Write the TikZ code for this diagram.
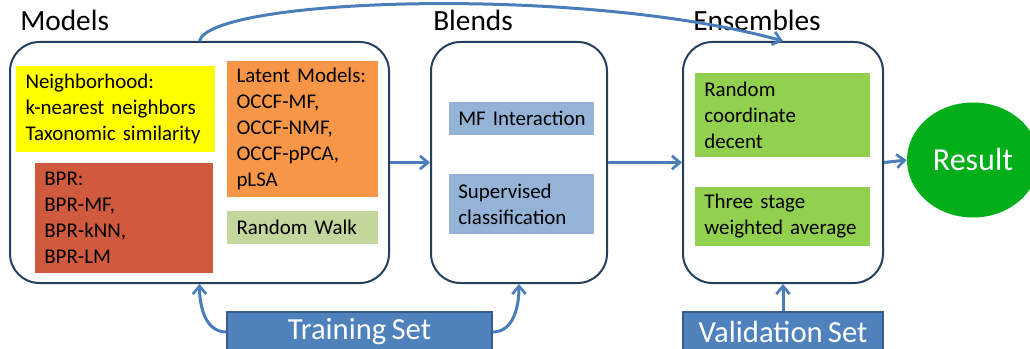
\documentclass[tikz,border=0pt]{standalone}
\usepackage{fontspec}
\setmainfont{Carlito}[WordSpace=0.75]
\usepackage{xcolor}
\usetikzlibrary{positioning, arrows.meta, calc, shapes.geometric}
\definecolor{framenavy}{HTML}{243F60}
\definecolor{flowblue}{HTML}{4A7EBB}
\definecolor{nbyellow}{HTML}{FFFF00}
\definecolor{latorange}{HTML}{F79646}
\definecolor{bprred}{HTML}{CF5A3E}
\definecolor{walkgreen}{HTML}{C3D69B}
\definecolor{blendblue}{HTML}{95B3D7}
\definecolor{ensgreen}{HTML}{92D050}
\definecolor{resgreen}{HTML}{02AE1A}
\definecolor{setblue}{HTML}{4F81BD}
\definecolor{setborder}{HTML}{385D8A}
\hyphenpenalty=10000

\begin{document}
\begin{tikzpicture}[x=0.75pt, y=-0.75pt,
    stagebox/.style={draw=framenavy, line width=1.5pt, rounded corners=22pt,
      minimum height=180.75pt, inner sep=0pt},
    itembox/.style={inner xsep=7pt, inner ysep=2pt, align=left,
      font=\fontsize{15.7}{19.5}\selectfont},
    stagelabel/.style={anchor=base west, inner sep=0pt,
      font=\fontsize{22}{26}\selectfont},
    setbox/.style={draw=setborder, line width=1pt, fill=setblue, text=white,
      minimum height=30pt, inner sep=0pt, font=\fontsize{23}{27}\selectfont},
    flow/.style={draw=flowblue, line width=2.25pt,
      -{Straight Barb[length=6pt, width=10pt, line width=2pt]}}]
  \useasboundingbox (0,0) rectangle (1030,349);
  \clip (0,0) rectangle (1030,349);

  % stages
  \node[stagebox, minimum width=284.25pt] (models) at (199.5,162.5) {};
  \node[stagebox, minimum width=132pt] (blends) at (519,162.5) {};
  \node[stagebox, minimum width=150pt] (ensembles) at (783,162.5) {};

  \node[stagelabel] (modelslbl) at (20,31) {Models};
  \node[stagelabel] (blendslbl) at (433,31) {Blends};
  \node[stagelabel] (enslbl) at (693,31) {Ensembles};

  % models
  \node[itembox, fill=nbyellow, text width=135pt, minimum height=64.5pt] (nbhood) at (115.5,109) {%
    Neighborhood:\\k-nearest neighbors\\Taxonomic similarity};
  \node[itembox, fill=latorange, text width=99pt, minimum height=102pt] (latent) at (302.5,129) {%
    Latent Models:\\OCCF-MF,\\OCCF-NMF,\\OCCF-pPCA,\\pLSA};
  \node[itembox, fill=bprred, text width=119.5pt, minimum height=82.5pt] (bpr) at (124,218) {%
    BPR:\\BPR-MF,\\BPR-kNN,\\BPR-LM};
  \node[itembox, fill=walkgreen, text width=99pt, minimum height=24.75pt] (walk) at (302.5,227.5) {%
    Random Walk};

  % blends
  \node[itembox, inner xsep=4pt, fill=blendblue, text width=100.75pt, minimum height=24.75pt] (mfint) at (521.5,118.5) {%
    \hspace*{3pt}MF Interaction};
  \node[itembox, inner xsep=4pt, fill=blendblue, text width=100.75pt, minimum height=45pt] (superv) at (521.5,204) {%
    \hspace*{3pt}Supervised\\\hspace*{3pt}classification};

  % ensembles
  \node[itembox, fill=ensgreen, text width=117.25pt, minimum height=63pt] (rcd) at (782.5,115) {%
    Random\\coordinate\\decent};
  \node[itembox, fill=ensgreen, text width=117.25pt, minimum height=44.25pt] (threestage) at (782.5,216.5) {%
    Three stage\\weighted average};

  \node[ellipse, fill=resgreen, text=white, minimum width=99pt, minimum height=86.25pt,
        inner sep=0pt, font=\fontsize{24}{28}\selectfont] (result) at (973,160) {Result};

  \node[setbox, minimum width=198.75pt] (train) at (359.5,332) {Training Set};
  \node[setbox, minimum width=150pt] (valid) at (783,332) {Validation Set};

  % connectors
  \draw[flow] (models.east) -- (blends.west);
  \draw[flow] (blends.east) -- (ensembles.west);
  \draw[flow] (ensembles.east) -- (result.west);
  \draw[flow] (train.west) to[out=180, in=-90] (models.south);
  \draw[flow] (train.east) to[out=0, in=-90] (blends.south);
  \draw[flow] (valid.north) -- (ensembles.south);
  \draw[flow] (models.north) .. controls (210,-2) and (580,-15) .. (ensembles.north);
\end{tikzpicture}
\end{document}
